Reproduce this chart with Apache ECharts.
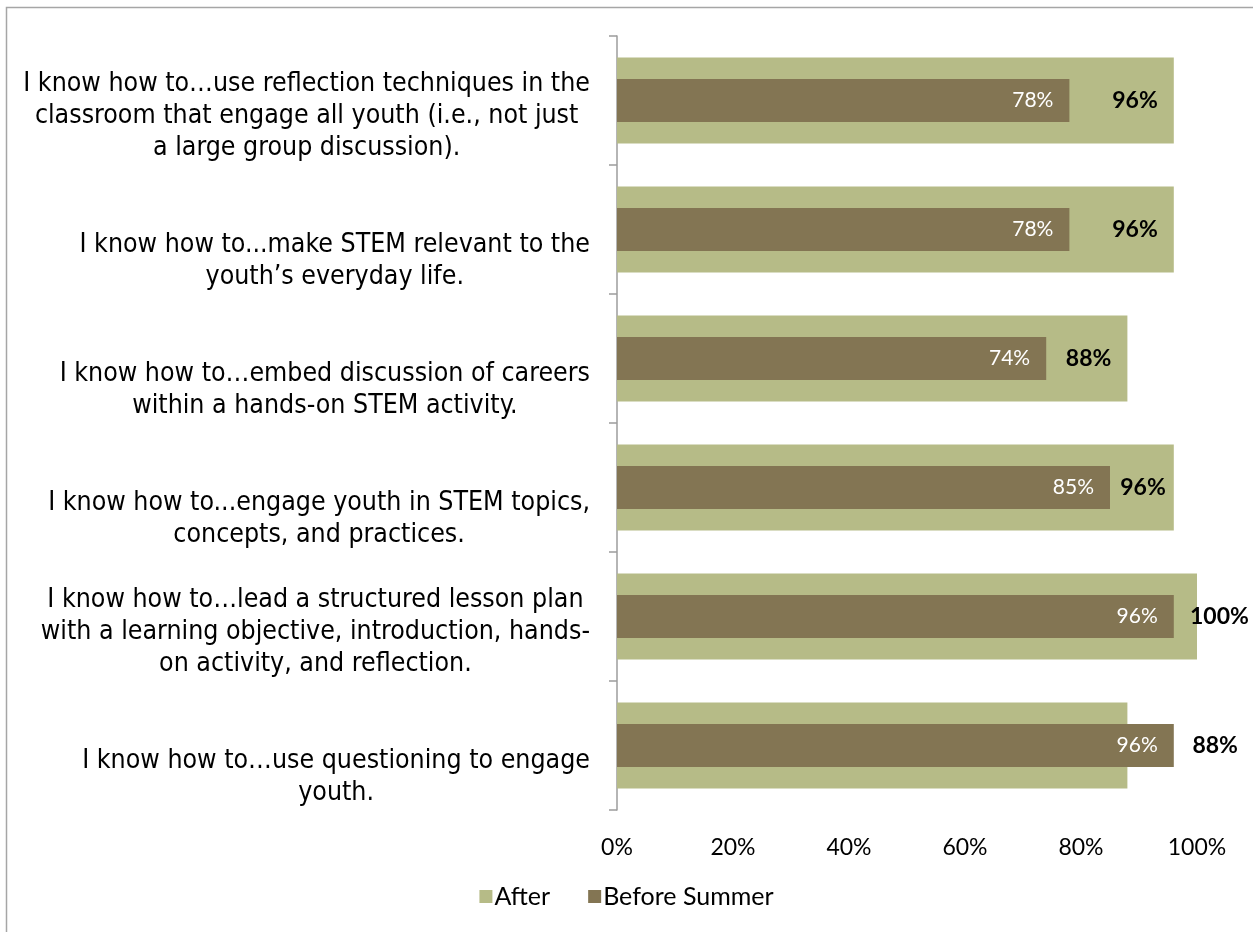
<!DOCTYPE html>
<html>
<head>
<meta charset="utf-8">
<title>Staff self-assessment: before and after summer</title>
<script src="https://cdn.jsdelivr.net/npm/echarts@6/dist/echarts.min.js"></script>
<style>
  html, body { margin: 0; padding: 0; background: #fff; }
  #chart { width: 1253px; height: 932px; }
</style>
</head>
<body>
<div id="chart"></div>
<script>
// Survey statements, top to bottom (line breaks as shown on the axis)
const categories = [
  'I know how to…use reflection techniques in the\nclassroom that engage all youth (i.e., not just\na large group discussion).',
  'I know how to...make STEM relevant to the\nyouth’s everyday life.',
  'I know how to…embed discussion of careers\nwithin a hands-on STEM activity.',
  'I know how to...engage youth in STEM topics,\nconcepts, and practices.',
  'I know how to…lead a structured lesson plan\nwith a learning objective, introduction, hands-\non activity, and reflection.',
  'I know how to…use questioning to engage\nyouth.'
];

// Percent agreeing
const afterValues = [96, 96, 88, 96, 100, 88];
const beforeValues = [78, 78, 74, 85, 96, 96];

const seriesNames = ['After', 'Before Summer'];
const xTicks = [0, 20, 40, 60, 80, 100];

// Where each "After" value label sits relative to its bar
const afterLabelPlacement = [
  { position: 'insideRight', distance: 16 },
  { position: 'insideRight', distance: 16 },
  { position: 'insideRight', distance: 16 },
  { position: 'insideRight', distance: 8 },
  { position: 'right', distance: 5, offset: [-12, 0] },
  { position: 'right', distance: 5, offset: [60, 0] }
];

const AFTER_COLOR = '#B6BB87';
const BEFORE_COLOR = '#837553';
const AXIS_GREY = '#9C9C9C';
const LABEL_FONT = '"DejaVu Sans Condensed", "DejaVu Sans", sans-serif';
const NUM_FONT = 'Lato, "Open Sans", sans-serif';

const chart = echarts.init(document.getElementById('chart'), null, { renderer: 'canvas' });

// Every statement is padded to four lines so that the last line sits at the
// same height below each bar centre; the lines are centred inside the block.
function categoryLabel(value) {
  const lines = value.split('\n');
  while (lines.length < 4) lines.unshift(' ');
  return lines.map(l => '{c|' + l + '}').join('\n');
}

const categoryAxisBase = {
  type: 'category',
  data: categories,
  inverse: true,
  boundaryGap: true
};

chart.setOption({
  backgroundColor: '#fff',
  animation: false,
  graphic: [{
    type: 'rect',
    silent: true,
    shape: { x: 6.5, y: 7.5, width: 1400, height: 1100 },
    style: { fill: 'none', stroke: '#A6A6A6', lineWidth: 1.5 }
  }],
  grid: { left: 617, right: 56, top: 36, bottom: 122, containLabel: false },
  legend: {
    data: seriesNames,
    bottom: 18,
    left: 'center',
    itemWidth: 13,
    itemHeight: 13,
    itemGap: 38,
    icon: 'rect',
    textStyle: { fontFamily: NUM_FONT, fontSize: 25, color: '#000', padding: [0, 0, 0, -3] }
  },
  xAxis: {
    type: 'value',
    min: 0,
    max: 100,
    interval: 20,
    axisLine: { show: false },
    axisTick: { show: false },
    splitLine: { show: false },
    axisLabel: {
      margin: 26,
      fontFamily: NUM_FONT,
      fontSize: 23,
      color: '#000',
      formatter: v => xTicks.includes(v) ? v + '%' : ''
    }
  },
  yAxis: [
    Object.assign({}, categoryAxisBase, {
      axisLine: { show: true, lineStyle: { color: AXIS_GREY, width: 1.5 } },
      axisTick: { show: true, length: 8, inside: false, lineStyle: { color: AXIS_GREY, width: 1.5 } },
      axisLabel: {
        interval: 0,
        margin: 27,
        align: 'right',
        verticalAlign: 'middle',
        formatter: categoryLabel,
        rich: {
          c: {
            align: 'center',
            lineHeight: 32,
            fontSize: 26.5,
            fontFamily: LABEL_FONT,
            color: '#000'
          }
        }
      }
    }),
    Object.assign({}, categoryAxisBase, { show: false })
  ],
  series: [
    {
      name: seriesNames[0],
      type: 'bar',
      yAxisIndex: 0,
      barWidth: '66.7%',
      itemStyle: { color: AFTER_COLOR },
      z: 2,
      label: {
        show: true,
        fontFamily: NUM_FONT,
        fontWeight: 'bold',
        fontSize: 23,
        color: '#000',
        formatter: p => p.value + '%'
      },
      data: afterValues.map((v, i) => ({ value: v, label: afterLabelPlacement[i] }))
    },
    {
      name: seriesNames[1],
      type: 'bar',
      yAxisIndex: 1,
      barWidth: '33.3%',
      itemStyle: { color: BEFORE_COLOR },
      z: 3,
      label: {
        show: true,
        position: 'insideRight',
        distance: 16,
        fontFamily: NUM_FONT,
        fontSize: 21,
        color: '#fff',
        formatter: p => p.value + '%'
      },
      data: beforeValues
    }
  ]
});
</script>
</body>
</html>
